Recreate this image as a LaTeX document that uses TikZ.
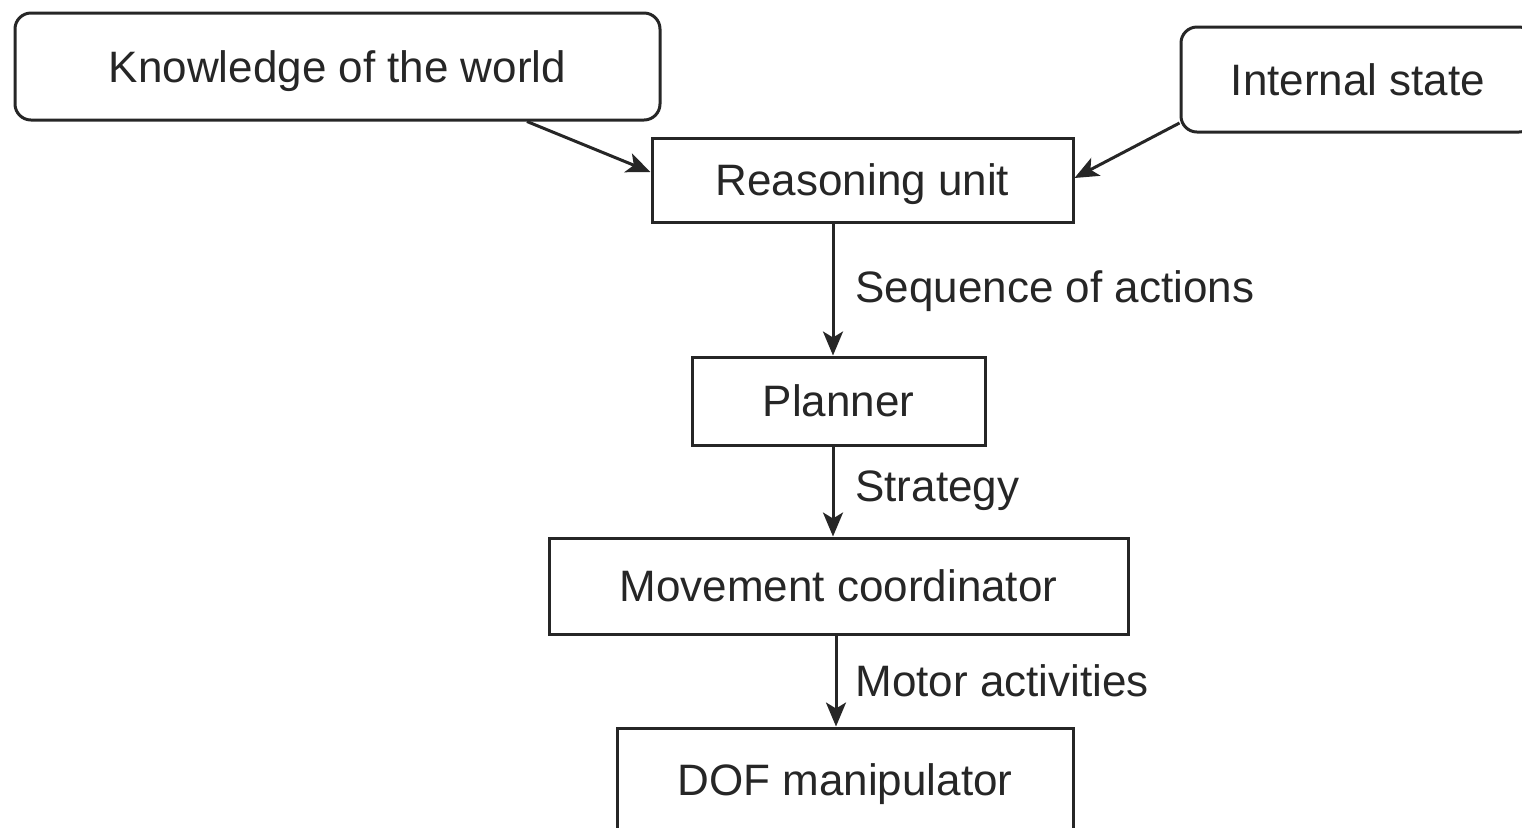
\documentclass[tikz,border=0pt]{standalone}
\usepackage{fontspec}
\setmainfont{Liberation Sans}
\usetikzlibrary{arrows.meta,calc}
\definecolor{ink}{HTML}{262626}
\begin{document}
\begin{tikzpicture}[x=0.5pt,y=-0.5pt,
  box/.style={draw=ink,line width=1.5pt,rectangle,inner sep=0pt,text=ink,
    font=\fontsize{22}{26}\selectfont,text depth=0pt,yshift=-1pt},
  rbox/.style={box,rounded corners=8pt},
  arr/.style={draw=ink,line width=1.5pt,-{Stealth[length=12pt,width=10pt,inset=3pt]}},
  lab/.style={anchor=west,text=ink,inner sep=0pt,font=\fontsize{22}{26}\selectfont}]
\useasboundingbox (0,0) rectangle (1522,827);
\clip (0,0) rectangle (1522,827);
\node[rbox,minimum width=322.5pt,minimum height=53.5pt] (know) at (337.5,64.5) {Knowledge of the world};
\node[rbox,minimum width=177pt,minimum height=52.5pt] (inst) at (1358,77.5) {Internal state};
\node[box,minimum width=210.5pt,minimum height=42pt] (reason) at (862.5,178) {Reasoning unit};
\node[box,minimum width=146.5pt,minimum height=44pt] (plan) at (838.5,399) {Planner};
\node[box,minimum width=289.5pt,minimum height=48pt] (move) at (838.5,584) {Movement coordinator};
\node[box,minimum width=228pt,minimum height=52pt] (dof) at (845,778) {DOF manipulator};
\coordinate (c1) at (833,0);
\coordinate (c3) at (836,0);
\coordinate (k1) at (527,0);
\coordinate (r1) at (0,172);
\coordinate (r2) at (0,178);
\coordinate (i1) at (0,123);
\draw[arr] (know.south -| k1) -- (reason.west |- r1);
\draw[arr] (inst.west |- i1) -- (reason.east |- r2);
\draw[arr] (reason.south -| c1) -- (plan.north -| c1);
\draw[arr] (plan.south -| c1) -- (move.north -| c1);
\draw[arr] (move.south -| c3) -- (dof.north -| c3);
\node[lab] (l1) at (855,291) {Sequence of actions};
\node[lab] (l2) at (855,491) {Strategy};
\node[lab] (l3) at (855,681) {Motor activities};
\end{tikzpicture}
\end{document}
